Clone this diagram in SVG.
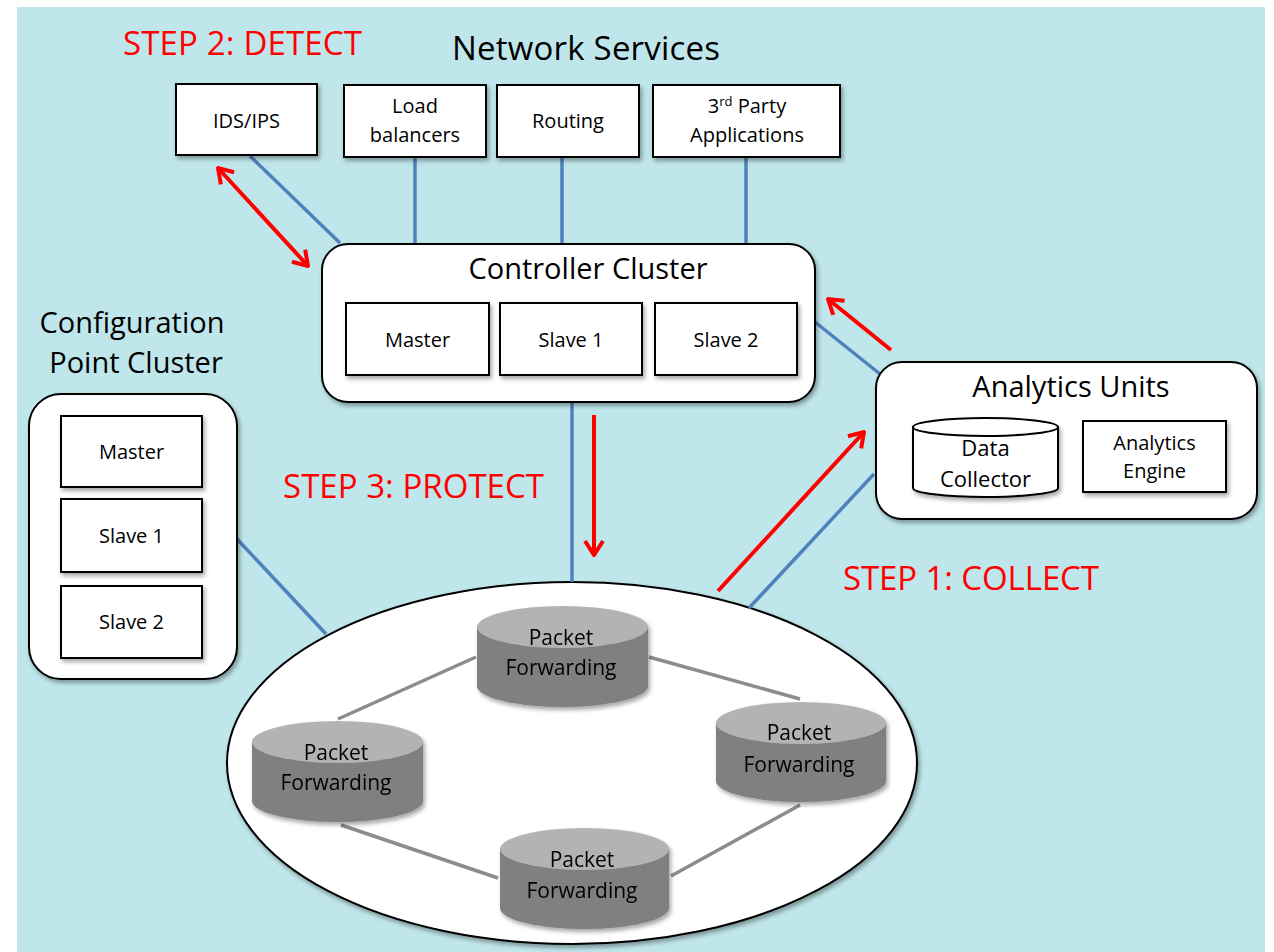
<svg xmlns="http://www.w3.org/2000/svg" width="1274" height="952" viewBox="0 0 1274 952">
  <defs>
    <style>
      text{font-family:"Open Sans","Liberation Sans",sans-serif;fill:#000;text-anchor:middle}
      .lbl{font-size:20px}
      .pf{font-size:21px}
      .title{font-size:29px}
      .head{font-size:33px}
      .step{font-size:33px;fill:#f00;text-anchor:start}
      .box{fill:#fff;stroke:#000;stroke-width:2}
      .blue{stroke:#4F81BD;stroke-width:3.5;fill:none}
      .red{stroke:#f00;stroke-width:4;fill:none}
      .ring{stroke:#8C8C8C;stroke-width:3.5;fill:none}
      .cyl-body{fill:#808080}
      .cyl-top{fill:#B3B3B3}
    </style>
    <filter id="sh" x="-15%" y="-15%" width="135%" height="140%">
      <feDropShadow dx="2" dy="3" stdDeviation="2" flood-color="#000" flood-opacity="0.35"/>
    </filter>
    <marker id="ah" viewBox="0 0 18 22" refX="16" refY="11" markerWidth="18" markerHeight="22" markerUnits="userSpaceOnUse" orient="auto-start-reverse">
      <path d="M2,2 L16,11 L2,20" fill="none" stroke="#f00" stroke-width="4"/>
    </marker>
  </defs>

  <!-- backdrop -->
  <rect x="0" y="0" width="1274" height="952" fill="#fff"/>
  <rect x="17" y="7" width="1248" height="945" fill="#BFE6EA"/>

  <!-- headings -->
  <text class="step" x="123" y="55" textLength="239">STEP 2: DETECT</text>
  <text class="head" x="586" y="60" textLength="268">Network Services</text>
  <text class="step" x="283" y="498" textLength="261">STEP 3: PROTECT</text>
  <text class="step" x="843" y="590" textLength="256">STEP 1: COLLECT</text>

  <!-- data plane ring -->
  <g id="forwarding-plane">
    <ellipse cx="572" cy="763" rx="345" ry="181" fill="#fff" stroke="#000" stroke-width="2" filter="url(#sh)"/>
  </g>

  <g id="connectors">
    <!-- links between packet forwarding nodes -->
    <line class="ring" x1="338" y1="719" x2="476" y2="657"/>
    <line class="ring" x1="649" y1="657" x2="800" y2="699"/>
    <line class="ring" x1="341" y1="825" x2="498" y2="878"/>
    <line class="ring" x1="800" y1="805" x2="671" y2="876"/>
    <!-- control links -->
    <line class="blue" x1="250" y1="156" x2="340" y2="243"/>
    <line class="blue" x1="415" y1="157" x2="415" y2="244"/>
    <line class="blue" x1="562" y1="157" x2="562" y2="244"/>
    <line class="blue" x1="746" y1="157" x2="746" y2="244"/>
    <line class="blue" x1="815" y1="322" x2="880" y2="374"/>
    <line class="blue" x1="572" y1="402" x2="572" y2="582"/>
    <line class="blue" x1="237" y1="539" x2="326" y2="634"/>
    <line class="blue" x1="874" y1="474" x2="749" y2="608"/>
    <!-- step arrows -->
    <line class="red" x1="218" y1="168" x2="308" y2="266" marker-start="url(#ah)" marker-end="url(#ah)"/>
    <line class="red" x1="594" y1="415" x2="594" y2="555" marker-end="url(#ah)"/>
    <line class="red" x1="718" y1="591" x2="864" y2="432" marker-end="url(#ah)"/>
    <line class="red" x1="891" y1="350" x2="828" y2="299" marker-end="url(#ah)"/>
  </g>

  <!-- network services -->
  <g id="ids-ips">
    <rect class="box" x="176" y="84" width="141" height="71" filter="url(#sh)"/>
    <text class="lbl" x="246.5" y="128">IDS/IPS</text>
  </g>
  <g id="load-balancers">
    <rect class="box" x="344" y="85" width="142" height="72" filter="url(#sh)"/>
    <text class="lbl" x="415" y="113">Load</text>
    <text class="lbl" x="415" y="142">balancers</text>
  </g>
  <g id="routing">
    <rect class="box" x="497" y="85" width="142" height="72" filter="url(#sh)"/>
    <text class="lbl" x="568" y="128">Routing</text>
  </g>
  <g id="third-party">
    <rect class="box" x="653" y="85" width="187" height="72" filter="url(#sh)"/>
    <text class="lbl" x="747" y="113">3<tspan font-size="13" dy="-7">rd</tspan><tspan dy="7"> Party</tspan></text>
    <text class="lbl" x="747" y="142">Applications</text>
  </g>

  <!-- controller cluster -->
  <g id="controller-cluster">
    <rect class="box" x="322" y="244" width="493" height="158" rx="26" filter="url(#sh)"/>
    <text class="title" x="588" y="279">Controller Cluster</text>
    <rect class="box" x="346" y="303" width="143" height="72" filter="url(#sh)"/>
    <text class="lbl" x="417.5" y="347">Master</text>
    <rect class="box" x="500" y="303" width="142" height="72" filter="url(#sh)"/>
    <text class="lbl" x="571" y="347">Slave 1</text>
    <rect class="box" x="655" y="303" width="142" height="72" filter="url(#sh)"/>
    <text class="lbl" x="726" y="347">Slave 2</text>
  </g>

  <!-- configuration point cluster -->
  <g id="config-cluster">
    <text class="title" x="132" y="333">Configuration</text>
    <text class="title" x="136" y="373">Point Cluster</text>
    <rect class="box" x="29" y="394" width="208" height="285" rx="32" filter="url(#sh)"/>
    <rect class="box" x="61" y="416" width="141" height="71" filter="url(#sh)"/>
    <text class="lbl" x="131.5" y="459">Master</text>
    <rect class="box" x="61" y="499" width="141" height="73" filter="url(#sh)"/>
    <text class="lbl" x="131.5" y="543">Slave 1</text>
    <rect class="box" x="61" y="586" width="141" height="72" filter="url(#sh)"/>
    <text class="lbl" x="131.5" y="629">Slave 2</text>
  </g>

  <!-- analytics units -->
  <g id="analytics-units">
    <rect class="box" x="876" y="362" width="381" height="157" rx="26" filter="url(#sh)"/>
    <text class="title" x="1071" y="397">Analytics Units</text>
    <g filter="url(#sh)">
      <path d="M913,427 L913,488 A72.5,9 0 0 0 1058,488 L1058,427 Z" fill="#fff" stroke="#000" stroke-width="2"/>
      <ellipse cx="985.5" cy="427" rx="72.5" ry="9" fill="#fff" stroke="#000" stroke-width="2"/>
    </g>
    <text x="985.5" y="456" font-size="22">Data</text>
    <text x="985.5" y="487" font-size="22">Collector</text>
    <rect class="box" x="1083" y="421" width="143" height="71" filter="url(#sh)"/>
    <text class="lbl" x="1154.5" y="450">Analytics</text>
    <text class="lbl" x="1154.5" y="478">Engine</text>
  </g>

  <!-- packet forwarding nodes -->
  <g id="pf-top" filter="url(#sh)">
    <path class="cyl-body" d="M477,627 L477,686 A85.5,21 0 0 0 648,686 L648,627 Z"/>
    <ellipse class="cyl-top" cx="562.5" cy="627" rx="85.5" ry="21"/>
    <text class="pf" x="561" y="645">Packet</text>
    <text class="pf" x="561" y="675">Forwarding</text>
  </g>
  <g id="pf-left" filter="url(#sh)">
    <path class="cyl-body" d="M252,742 L252,801 A85.5,21 0 0 0 423,801 L423,742 Z"/>
    <ellipse class="cyl-top" cx="337.5" cy="742" rx="85.5" ry="21"/>
    <text class="pf" x="336" y="760">Packet</text>
    <text class="pf" x="336" y="790">Forwarding</text>
  </g>
  <g id="pf-right" filter="url(#sh)">
    <path class="cyl-body" d="M716,723 L716,781 A85,21 0 0 0 886,781 L886,723 Z"/>
    <ellipse class="cyl-top" cx="801" cy="723" rx="85" ry="21"/>
    <text class="pf" x="799" y="740">Packet</text>
    <text class="pf" x="799" y="772">Forwarding</text>
  </g>
  <g id="pf-bottom" filter="url(#sh)">
    <path class="cyl-body" d="M500,849 L500,908 A84.5,21 0 0 0 669,908 L669,849 Z"/>
    <ellipse class="cyl-top" cx="584.5" cy="849" rx="84.5" ry="21"/>
    <text class="pf" x="582" y="867">Packet</text>
    <text class="pf" x="582" y="898">Forwarding</text>
  </g>
</svg>
